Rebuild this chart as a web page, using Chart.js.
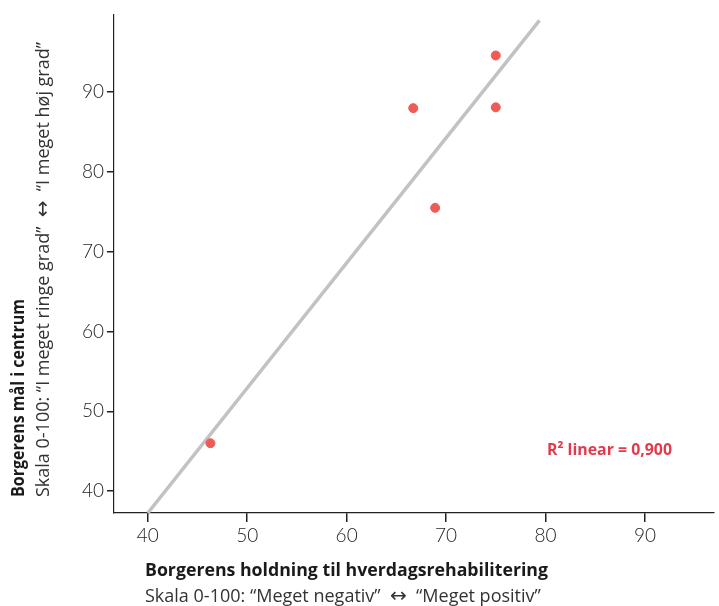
<!DOCTYPE html>
<html>
<head>
<meta charset="utf-8">
<script src="https://cdn.jsdelivr.net/npm/chart.js@4.4.1/dist/chart.umd.min.js"></script>
<style>
  html, body { margin: 0; padding: 0; background: #fff; }
  #wrap { width: 719px; height: 606px; position: relative; }
</style>
</head>
<body>
<div id="wrap"><canvas id="scatter"></canvas></div>
<script>
// Holdning (x) og mål i centrum (y) for hvert datapunkt
const holdning = [46.3, 66.7, 75.0, 75.0, 68.9];
const maal = [46.0, 88.0, 94.6, 88.1, 75.5];

// Regressionslinje (endepunkter aflæst)
const linjeX = [40, 79.4];
const linjeY = [37.25, 99.0];

const xTicks = [40, 50, 60, 70, 80, 90];
const yTicks = [40, 50, 60, 70, 80, 90];

const r2Label = "R\u00B2 linear = 0,900";

const points = holdning.map((x, i) => ({ x: x, y: maal[i] }));
const lineData = linjeX.map((x, i) => ({ x: x, y: linjeY[i] }));

// tekst i flere dele (pil i andet font), presset til en given bredde
function drawParts(ctx, parts, x, y, maxW) {
    let total = 0;
    parts.forEach(p => { ctx.font = p[1]; total += ctx.measureText(p[0]).width; });
    const k = Math.min(1, maxW / total);
    ctx.save();
    ctx.translate(x, y);
    ctx.scale(k, 1);
    let cx = 0;
    parts.forEach(p => {
        ctx.font = p[1];
        ctx.fillText(p[0], cx, 0);
        cx += ctx.measureText(p[0]).width;
    });
    ctx.restore();
}

const subFont = "18px 'Open Sans'";
const arrowFont = "20px 'DejaVu Sans'";

// Tegner aksetitler og R2-tekst
const titlesPlugin = {
    id: "titles",
    afterDraw(chart) {
        const ctx = chart.ctx;
        ctx.save();
        ctx.fillStyle = "#1a1a1a";
        ctx.textBaseline = "alphabetic";
        ctx.textAlign = "left";

        // x-akse titel
        ctx.font = "bold 18px 'Open Sans'";
        ctx.fillText("Borgerens holdning til hverdagsrehabilitering", 145, 576, 403);
        ctx.fillStyle = "#333";
        drawParts(ctx, [
            ["Skala 0-100: \u201CMeget negativ\u201D  ", subFont],
            ["\u2194", arrowFont],
            ["  \u201CMeget positiv\u201D", subFont]
        ], 145, 602, 400);

        // y-akse titel (roteret)
        ctx.translate(0, 497);
        ctx.rotate(-Math.PI / 2);
        ctx.fillStyle = "#1a1a1a";
        ctx.font = "bold 18px 'Open Sans'";
        ctx.fillText("Borgerens mål i centrum", 0, 24, 198);
        ctx.fillStyle = "#333";
        drawParts(ctx, [
            ["Skala 0-100: \u201CI meget ringe grad\u201D  ", subFont],
            ["\u2194", arrowFont],
            ["  \u201CI meget høj grad\u201D", subFont]
        ], 0, 49, 455);
        ctx.restore();

        // R2 tekst
        ctx.save();
        ctx.fillStyle = "#e23a4c";
        ctx.font = "bold 16px 'Open Sans'";
        ctx.textBaseline = "middle";
        ctx.fillText(r2Label, 547, 450, 125);
        ctx.restore();
    }
};

const chart = new Chart(document.getElementById("scatter").getContext("2d"), {
    type: "scatter",
    data: {
        datasets: [
            {
                label: "Borgere",
                data: points,
                backgroundColor: "#ef5b55",
                borderColor: "#ef5b55",
                pointRadius: 4.5,
                pointHoverRadius: 4.5,
                order: 1
            },
            {
                label: "Linear",
                type: "line",
                data: lineData,
                borderColor: "#c2c2c2",
                borderWidth: 3.5,
                pointRadius: 0,
                fill: false,
                order: 2
            }
        ]
    },
    options: {
        responsive: true,
        maintainAspectRatio: false,
        animation: false,
        layout: { padding: { top: 13, left: 0, right: 0, bottom: 0 } },
        plugins: {
            legend: { display: false },
            tooltip: { enabled: false }
        },
        scales: {
            x: {
                type: "linear",
                min: 36.6,
                max: 96.9,
                afterBuildTicks: scale => { scale.ticks = xTicks.map(v => ({ value: v })); },
                afterFit: scale => { scale.height = 93; },
                border: { display: true, color: "#222", width: 1.2, dash: [1, 2] },
                grid: { drawOnChartArea: false, drawTicks: true, tickLength: 9, color: "#222", lineWidth: 1.5 },
                ticks: {
                    color: "#1e1e1e",
                    padding: 2,
                    font: { family: "Lato", size: 19, weight: 300 }
                }
            },
            y: {
                type: "linear",
                min: 37.25,
                max: 99.75,
                afterBuildTicks: scale => { scale.ticks = yTicks.map(v => ({ value: v })); },
                afterFit: scale => { scale.width = 114; },
                border: { display: true, color: "#222", width: 1.2, dash: [1, 2] },
                grid: { drawOnChartArea: false, drawTicks: true, tickLength: 7, color: "#222", lineWidth: 1.5 },
                ticks: {
                    color: "#1e1e1e",
                    padding: 3,
                    font: { family: "Lato", size: 19, weight: 300 }
                }
            }
        }
    },
    plugins: [titlesPlugin]
});
</script>
</body>
</html>
